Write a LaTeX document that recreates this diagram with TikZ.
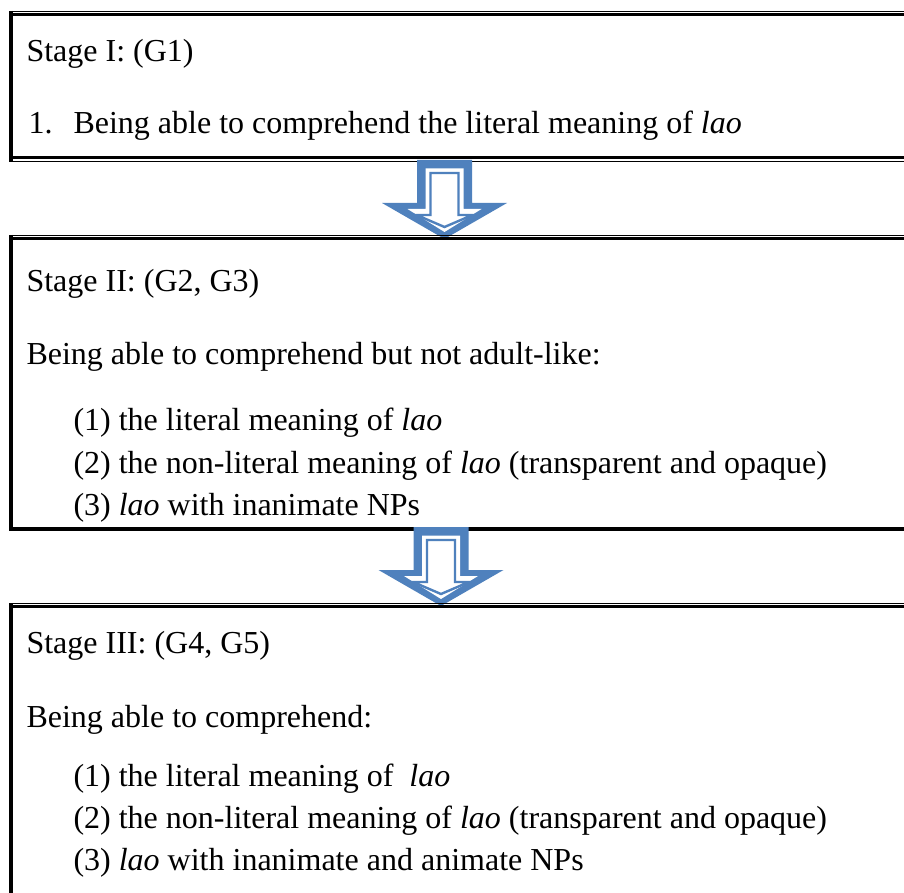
\documentclass[tikz,border=0pt]{standalone}
\usepackage{fontspec}
\setmainfont{Liberation Serif}
\definecolor{arrowblue}{RGB}{79,129,189}
\tikzset{
  thinrule/.style={line width=0.55pt},
  thickrule/.style={line width=1.1pt},
  siderule/.style={line width=1.5pt},
  stagetext/.style={anchor=base west, inner sep=0pt, font=\fontsize{12}{14}\selectfont},
}
\begin{document}
\begin{tikzpicture}[x=0.375pt, y=-0.375pt]
\useasboundingbox (0,0) rectangle (904,893);
\clip (0,0) rectangle (904,893);

% Stage I box
\draw[thinrule] (9,11.5) -- (910,11.5);
\draw[thickrule] (9,14.3) -- (910,14.3);
\draw[siderule] (11,11) -- (11,162);
\draw[thickrule] (9,157.7) -- (910,157.7);
\draw[thinrule] (9,161.5) -- (910,161.5);
\node[stagetext] (s1head) at (26,62) {Stage I: (G1)};
\node[stagetext] (s1num) at (28,134) {1.};
\node[stagetext] (s1item) at (73,134) {Being able to comprehend the literal meaning of \textit{lao}};

% Arrow I -> II
\begin{scope}[shift={(444.5,160)}]
  \fill[arrowblue] (-27.5,0) -- (27.5,0) -- (27.5,43) -- (62.5,43) -- (0,79) -- (-62.5,43) -- (-27.5,43) -- cycle;
  \fill[white] (-19,8.5) -- (19,8.5) -- (19,49) -- (37,49) -- (0,72) -- (-37,49) -- (-19,49) -- cycle;
  \filldraw[fill=white, draw=arrowblue, line width=0.9pt] (-14,13) -- (14,13) -- (14,55) -- (28,55) -- (0,67) -- (-28,55) -- (-14,55) -- cycle;
\end{scope}

% Stage II box
\draw[thinrule] (9,235.5) -- (910,235.5);
\draw[thickrule] (9,238.5) -- (910,238.5);
\draw[siderule] (11,235) -- (11,531);
\draw[line width=1.4pt] (9,529) -- (910,529);
\node[stagetext] (s2head) at (26,292) {Stage II: (G2, G3)};
\node[stagetext] (s2lead) at (26,365) {Being able to comprehend but not adult-like:};
\node[stagetext] (s2a) at (73,431) {(1) the literal meaning of \textit{lao}};
\node[stagetext] (s2b) at (73,473) {(2) the non-literal meaning of \textit{lao} (transparent and opaque)};
\node[stagetext] (s2c) at (73,515) {(3) \textit{lao} with inanimate NPs};

% Arrow II -> III
\begin{scope}[shift={(441,527)}]
  \fill[arrowblue] (-27.5,0) -- (27.5,0) -- (27.5,43) -- (62.5,43) -- (0,79) -- (-62.5,43) -- (-27.5,43) -- cycle;
  \fill[white] (-19,8.5) -- (19,8.5) -- (19,49) -- (37,49) -- (0,72) -- (-37,49) -- (-19,49) -- cycle;
  \filldraw[fill=white, draw=arrowblue, line width=0.9pt] (-14,13) -- (14,13) -- (14,55) -- (28,55) -- (0,67) -- (-28,55) -- (-14,55) -- cycle;
\end{scope}

% Stage III box
\draw[thinrule] (9,603.5) -- (910,603.5);
\draw[thickrule] (9,606.7) -- (910,606.7);
\draw[siderule] (11,603) -- (11,900);
\node[stagetext] (s3head) at (26,653) {Stage III: (G4, G5)};
\node[stagetext] (s3lead) at (26,727) {Being able to comprehend:};
\node[stagetext] (s3a) at (73,786) {(1) the literal meaning of~ \textit{lao}};
\node[stagetext] (s3b) at (73,828) {(2) the non-literal meaning of \textit{lao} (transparent and opaque)};
\node[stagetext] (s3c) at (73,870) {(3) \textit{lao} with inanimate and animate NPs};
\end{tikzpicture}
\end{document}
